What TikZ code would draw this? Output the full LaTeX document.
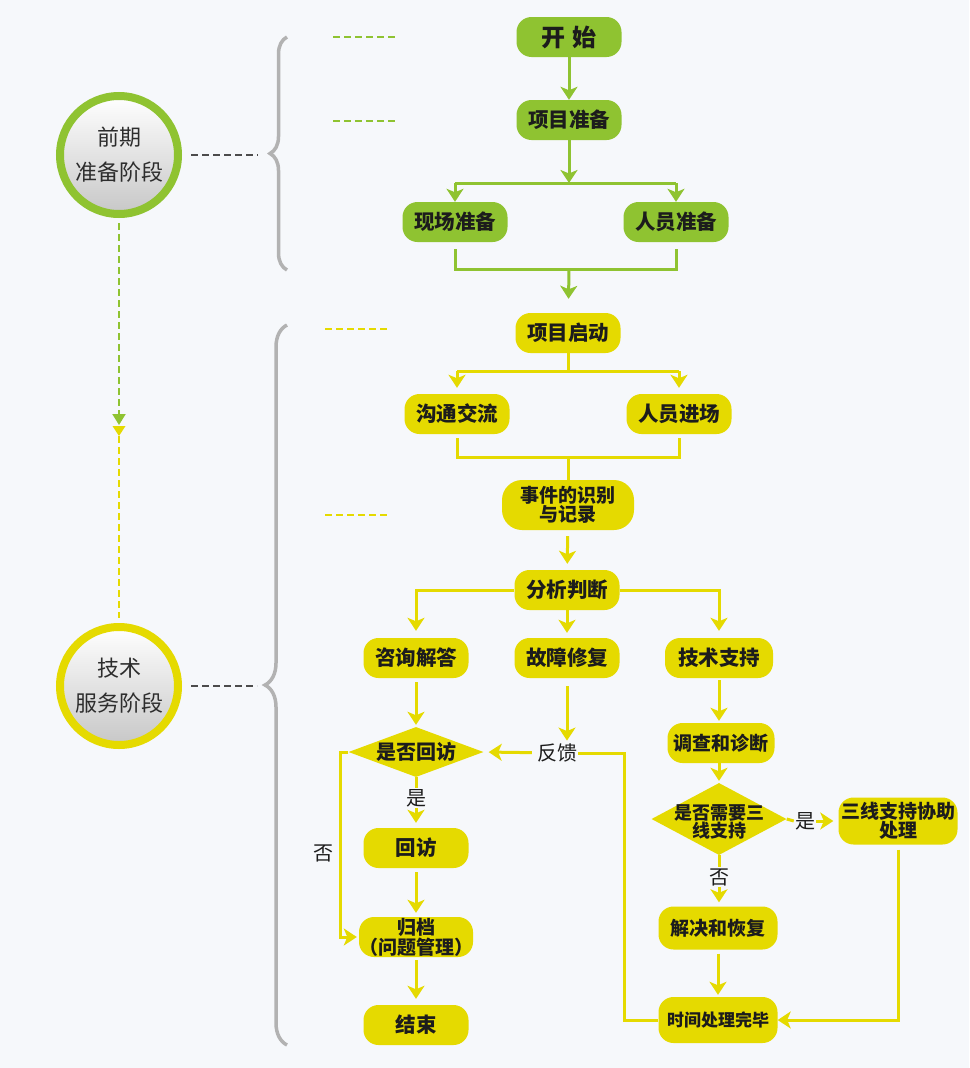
\documentclass[tikz,border=0pt]{standalone}
\usepackage{fontspec}
\setmainfont{Noto Sans CJK SC}
\usetikzlibrary{arrows.meta,shapes.geometric,decorations.pathreplacing,calc}
\definecolor{bg}{RGB}{246,248,251}
\definecolor{gr}{RGB}{143,195,49}
\definecolor{ye}{RGB}{229,218,0}
\definecolor{brc}{RGB}{178,178,178}
\definecolor{txt}{RGB}{28,28,28}
\definecolor{ctxt}{RGB}{45,45,45}
\tikzset{
  boxbase/.style={rounded corners=15pt, minimum width=105pt, minimum height=40pt,
    inner sep=0pt, align=center, text=txt, font=\bfseries\fontsize{20.5}{20}\selectfont},
  gbox/.style={boxbase, fill=gr},
  ybox/.style={boxbase, fill=ye},
  ydia/.style={diamond, fill=ye, inner sep=0pt},
  lbl/.style={text=txt, inner sep=1pt, font=\fontsize{20}{20}\selectfont},
  arr/.style={-{Stealth[length=13pt,width=17pt,inset=3.5pt]}},
  gline/.style={draw=gr, line width=3pt},
  yline/.style={draw=ye, line width=3pt},
  phase/.style={circle, minimum size=118pt, line width=8pt, inner sep=0pt,
    top color=white, bottom color=black!22, align=center, text=ctxt,
    font=\fontsize{22}{35}\selectfont},
  ddash/.style={draw=black!70, line width=2pt, dash pattern=on 7pt off 4pt},
  gdash/.style={draw=gr, line width=2pt, dash pattern=on 7pt off 4pt},
  ydash/.style={draw=ye, line width=2pt, dash pattern=on 7pt off 4pt},
  bracestyle/.style={draw=brc, line width=3.5pt, decorate},
}
\begin{document}
\begin{tikzpicture}[x=1pt,y=-1pt]
\fill[bg] (0,0) rectangle (969,1068);
\useasboundingbox (0,0) rectangle (969,1068);

% ---------- phase 1 ----------
\node[gbox, font=\bfseries\fontsize{24}{24}\selectfont] (start) at (569,37) {开\hspace{8pt}始};
\node[gbox] (prep) at (569,120) {项目准备};
\node[gbox] (site) at (455,222) {现场准备};
\node[gbox] (staff) at (676,222) {人员准备};
\coordinate (b1) at (569,183);
\coordinate (j1) at (569,269);

\draw[gline,arr] (start) -- (prep);
\draw[gline,arr] (prep) -- (b1);
\draw[gline] (b1 -| site) -- (b1 -| staff);
\draw[gline,arr] (b1 -| site) -- (site);
\draw[gline,arr] (b1 -| staff) -- (staff);
\draw[gline] ([yshift=-7pt]site.south) -- (site |- j1) -- (staff |- j1) -- ([yshift=-7pt]staff.south);

% ---------- phase 2 ----------
\node[ybox] (launch) at (568,333) {项目启动};
\node[ybox] (comm) at (457,414) {沟通交流};
\node[ybox] (enter) at (679,414) {人员进场};
\node[ybox, minimum width=132pt, minimum height=50pt, rounded corners=20pt,
  font=\bfseries\fontsize{19}{19}\selectfont] (rec) at (568,505) {事件的识别\\与记录};
\node[ybox] (ana) at (567,590) {分析判断};
\node[ybox] (cons) at (416,658) {咨询解答};
\node[ybox] (fix) at (567,658) {故障修复};
\node[ybox, minimum width=108pt] (tech) at (719,658) {技术支持};

\draw[gline,arr,shorten >=14pt] (j1) -- (launch);

\coordinate (b2) at (568,371);
\coordinate (j2) at (568,457);
\draw[yline] (launch) -- (b2);
\draw[yline] (b2 -| comm) -- (b2 -| enter);
\draw[yline,arr,shorten >=6pt] (b2 -| comm) -- (comm);
\draw[yline,arr,shorten >=6pt] (b2 -| enter) -- (enter);
\draw[yline] ([yshift=-4pt]comm.south) -- (comm |- j2) -- (enter |- j2) -- ([yshift=-4pt]enter.south);
\draw[yline] (j2) -- (rec);
\draw[yline,arr,shorten <=6pt,shorten >=6pt] (rec) -- (ana);
\draw[yline,arr,shorten >=7pt] (ana.west) -| (cons);
\draw[yline,arr,shorten >=7pt] (ana.east) -| (tech);
\draw[yline,arr,shorten >=5pt] (ana) -- (fix);

% left branch
\node[ydia, minimum width=135pt, minimum height=50pt] (d1) at (416,752) {};
\node[text=txt, font=\bfseries\fontsize{20}{20}\selectfont] at (d1) {是否回访};
\node[lbl] (fb) at (557,753) {反馈};
\node[lbl] (yes1) at (416,798) {是};
\node[lbl] (no1) at (323,853) {否};
\node[ybox] (visit) at (416,848) {回访};
\node[ybox, font=\bfseries\fontsize{19}{20}\selectfont] (arch) at (416,937) {归档\\（问题管理）};
\node[ybox] (endn) at (416,1025) {结束};
\coordinate (c2) at (340,752);
\coordinate (c1) at (624,1022);

\draw[yline,arr,shorten <=4pt,shorten >=2pt] (cons) -- (d1);
\draw[yline,arr,shorten <=8pt,shorten >=2pt] (fix.south) -- (fix.south |- fb.north);
\draw[yline,arr,shorten <=4pt,shorten >=5pt] (fb) -- (d1.east);
\draw[yline] (d1.south) -- (yes1.north);
\draw[yline,arr,shorten >=5pt] (yes1.south) -- (visit.north);
\draw[yline,arr,shorten <=4pt,shorten >=4pt] (visit) -- (arch);
\draw[yline,arr,shorten >=2pt] (d1.west) -- (c2) |- (arch.west);
\draw[yline,arr,shorten <=3pt,shorten >=6pt] (arch) -- (endn);

% right branch
\node[ybox, minimum width=107pt, font=\bfseries\fontsize{19}{19}\selectfont] (inv) at (721,743) {调查和诊断};
\node[ydia, minimum width=135pt, minimum height=72pt] (d2) at (719,819) {};
\node[text=txt, align=center, font=\bfseries\fontsize{18}{17}\selectfont] at (719,822) {是否需要三\\线支持};
\node[lbl] (yes2) at (805,821) {是};
\node[lbl] (no2) at (719,877) {否};
\node[ybox, minimum width=119pt, minimum height=47pt, font=\bfseries\fontsize{19}{18}\selectfont] (third) at (898,821) {三线支持协助\\处理};
\node[ybox, minimum width=119pt, minimum height=43pt, font=\bfseries\fontsize{19}{19}\selectfont] (solve) at (718,928) {解决和恢复};
\node[ybox, minimum width=119pt, minimum height=46pt, font=\bfseries\fontsize{17}{17}\selectfont] (done) at (718,1020) {时间处理完毕};

\draw[yline,arr,shorten <=2pt,shorten >=2pt] (tech.south) -- (tech.south |- inv.north);
\draw[yline,arr,shorten >=2pt] (inv.south -| d2) -- (d2.north);
\draw[yline] (d2.east) -- (yes2.west);
\draw[yline,arr,shorten >=5pt] (yes2.east) -- (third.west);
\draw[yline] (d2.south) -- (no2.north);
\draw[yline,arr,shorten >=4pt] (no2.south) -- (no2.south |- solve.north);
\draw[yline,arr,shorten <=4pt,shorten >=2pt] (solve) -- (done);
\draw[yline,arr] ([yshift=-5pt]third.south) |- (done.east);
\draw[yline] (done.west) -- (done.west -| c1) |- (fb.east);

% ---------- left column ----------
\node[phase, draw=gr] (p1) at (119,155) {前期\\准备阶段};
\node[phase, draw=ye] (p2) at (119,686) {技术\\服务阶段};
\coordinate (bt1) at (258,155);
\coordinate (bt2) at (257,686);
\draw[ddash] ([xshift=9pt]p1.east) -- (bt1);
\draw[ddash] ([xshift=9pt]p2.east) -- (bt2);

\draw[bracestyle, decoration={brace, amplitude=17pt}] (287,270) -- (287,37);
\draw[bracestyle, decoration={brace, amplitude=22pt}] (287,1045) -- (287,325);

\draw[gdash] (333,37) -- (398,37);
\draw[gdash] (333,121) -- (398,121);
\draw[ydash] (325,329) -- (390,329);
\draw[ydash] (325,515) -- (390,515);

\coordinate (v1) at (119,425);
\coordinate (v2) at (119,436);
\draw[gdash, -{Triangle[length=11pt,width=13pt]}] ([yshift=-5pt]p1.south) -- (v1);
\fill[ye] (112.5,426) -- (125.5,426) -- (v2) -- cycle;
\draw[ydash] (v2) -- ([yshift=5pt]p2.north);
\end{tikzpicture}
\end{document}
